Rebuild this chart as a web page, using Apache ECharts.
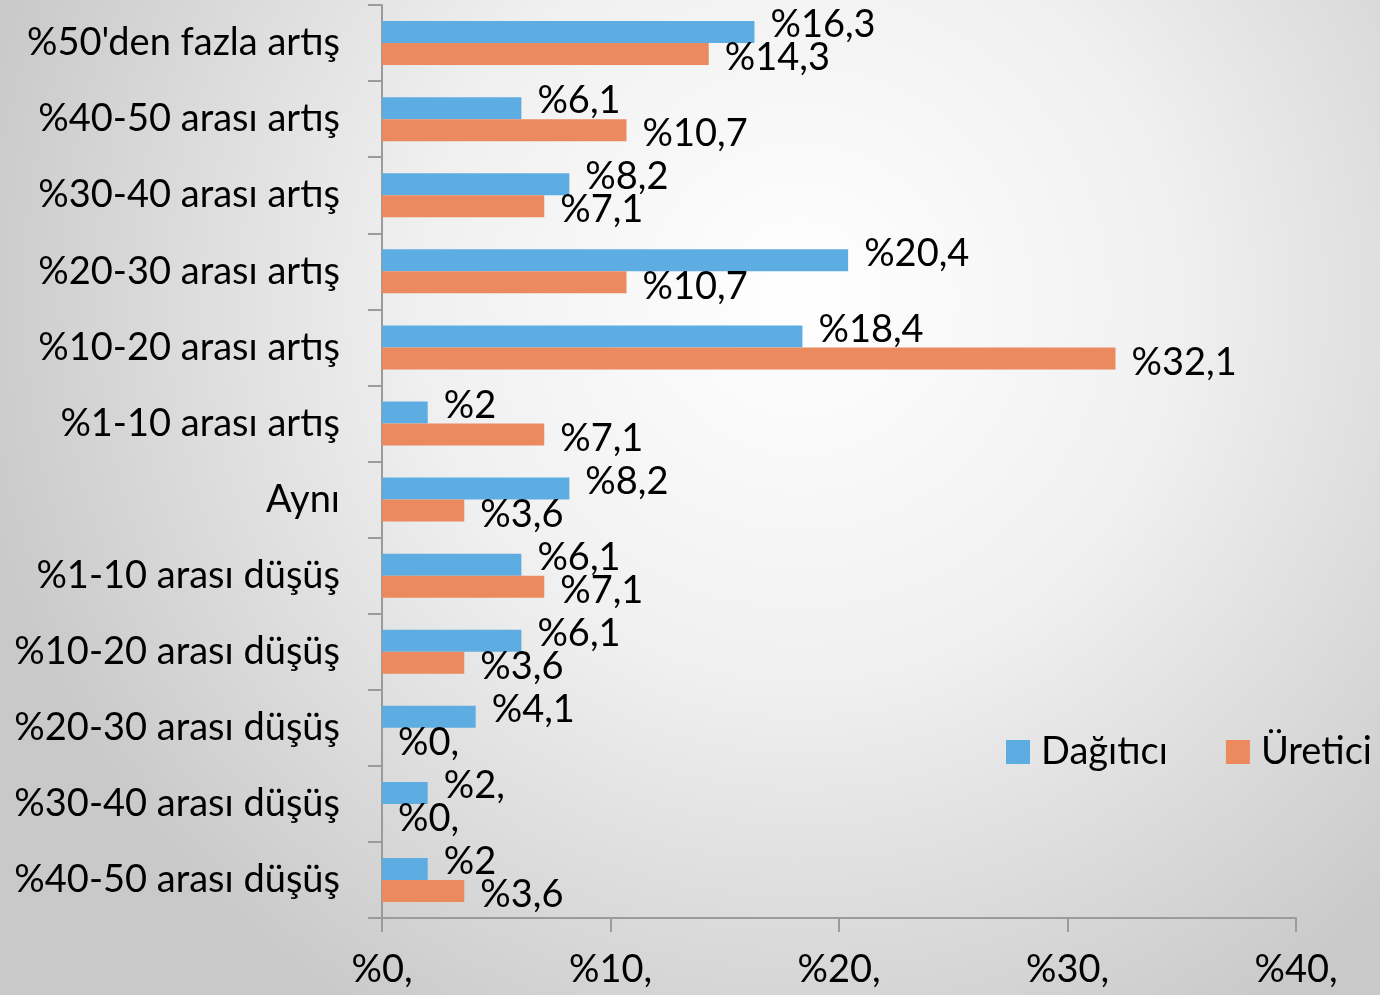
<!DOCTYPE html>
<html>
<head>
<meta charset="utf-8">
<script src="https://cdn.jsdelivr.net/npm/echarts@6/dist/echarts.min.js"></script>
<style>
  html, body { margin: 0; padding: 0; }
  #container { width: 1380px; height: 995px; }
</style>
</head>
<body>
<div id="container"></div>
<script>
// kategoriler (yukaridan asagiya)
var categories = [
    "%50'den fazla artış",
    '%40-50 arası artış',
    '%30-40 arası artış',
    '%20-30 arası artış',
    '%10-20 arası artış',
    '%1-10 arası artış',
    'Aynı',
    '%1-10 arası düşüş',
    '%10-20 arası düşüş',
    '%20-30 arası düşüş',
    '%30-40 arası düşüş',
    '%40-50 arası düşüş'
];
var dagitici = [16.3, 6.1, 8.2, 20.4, 18.4, 2, 8.2, 6.1, 6.1, 4.1, 2, 2];
var uretici = [14.3, 10.7, 7.1, 10.7, 32.1, 7.1, 3.6, 7.1, 3.6, 0, 0, 3.6];
// etiket metinleri resimdeki gibi
var dagiticiLabels = ['%16,3', '%6,1', '%8,2', '%20,4', '%18,4', '%2', '%8,2', '%6,1', '%6,1', '%4,1', '%2,', '%2'];
var ureticiLabels = ['%14,3', '%10,7', '%7,1', '%10,7', '%32,1', '%7,1', '%3,6', '%7,1', '%3,6', '%0,', '%0,', '%3,6'];
var xTicks = ['%0,', '%10,', '%20,', '%30,', '%40,'];

var font = 'Lato';
var dom = document.getElementById('container');
var myChart = echarts.init(dom, null, { renderer: 'canvas' });

var option = {
    backgroundColor: new echarts.graphic.RadialGradient(0.58, 0.3, 0.85, [
        { offset: 0, color: '#ffffff' },
        { offset: 0.45, color: '#f0f0f0' },
        { offset: 1, color: '#c9c9c9' }
    ]),
    textStyle: { fontFamily: font },
    legend: {
        left: 1001,
        top: 728,
        itemWidth: 24,
        itemHeight: 24,
        itemGap: 58,
        icon: 'rect',
        textStyle: { fontSize: 38, color: '#000', fontFamily: font, padding: [0, 0, 0, 6] },
        data: ['Dağıtıcı', 'Üretici']
    },
    grid: { left: 382, right: 84, top: 5, bottom: 77 },
    xAxis: {
        type: 'value',
        min: 0,
        max: 40,
        interval: 10,
        axisLine: { show: true, lineStyle: { color: '#9b9b9b', width: 2 } },
        axisTick: { show: true, length: 14, lineStyle: { color: '#9b9b9b', width: 2 } },
        splitLine: { show: false },
        axisLabel: {
            fontSize: 38,
            color: '#000',
            margin: 33,
            formatter: function (v) { return xTicks[v / 10]; }
        }
    },
    yAxis: {
        type: 'category',
        inverse: true,
        data: categories,
        axisLine: { show: true, lineStyle: { color: '#9b9b9b', width: 2 } },
        axisTick: { show: true, length: 14, lineStyle: { color: '#9b9b9b', width: 2 } },
        axisLabel: { fontSize: 38, color: '#000', margin: 42 }
    },
    series: [
        {
            name: 'Dağıtıcı',
            type: 'bar',
            data: dagitici,
            barWidth: 22,
            barGap: '0%',
            itemStyle: { color: '#5dade2' },
            label: {
                show: true,
                position: 'right',
                distance: 16,
                offset: [0, -7],
                fontSize: 38,
                color: '#000',
                formatter: function (p) { return dagiticiLabels[p.dataIndex]; }
            }
        },
        {
            name: 'Üretici',
            type: 'bar',
            data: uretici,
            barWidth: 22,
            itemStyle: { color: '#eb8a5f' },
            label: {
                show: true,
                position: 'right',
                distance: 16,
                offset: [0, 4],
                fontSize: 38,
                color: '#000',
                formatter: function (p) { return ureticiLabels[p.dataIndex]; }
            }
        }
    ]
};

myChart.setOption(option);
window.addEventListener('resize', myChart.resize);
</script>
</body>
</html>
